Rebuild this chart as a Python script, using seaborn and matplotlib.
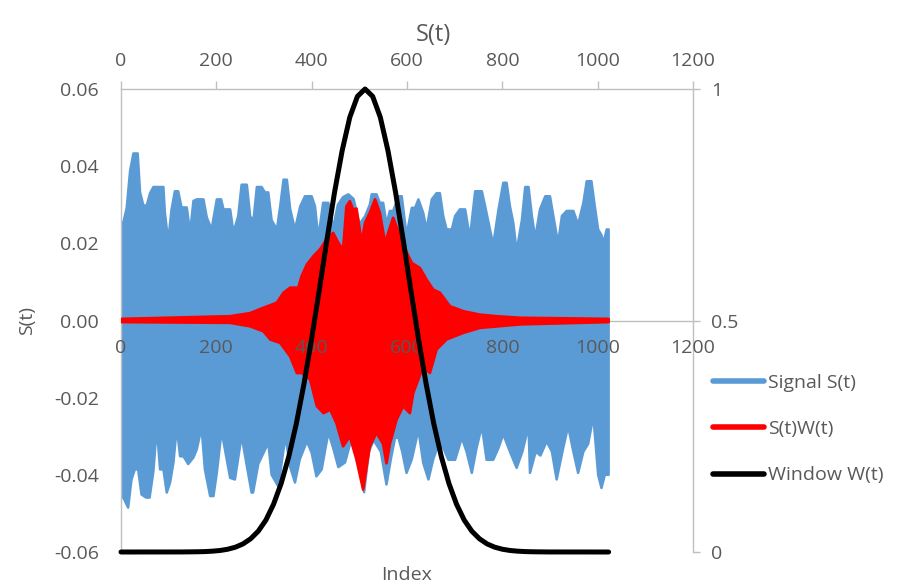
import numpy as np
import matplotlib
matplotlib.use("Agg")
import matplotlib.pyplot as plt
import seaborn as sns
from matplotlib.lines import Line2D
from matplotlib.ticker import FuncFormatter

sns.set_theme(style="white")
plt.rcParams['font.family'] = ['Open Sans', 'DejaVu Sans']

# ---------------- data ----------------
# Signal S(t): upper / lower envelope of the dense oscillation
sig_up_idx = [0, 5, 12, 19, 26, 35, 40, 47, 54, 61,
              68, 89, 92, 99, 106, 113, 120, 127, 138, 145,
              152, 159, 173, 180, 190, 201, 210, 215, 229, 236,
              246, 253, 264, 271, 278, 285, 295, 302, 309, 316,
              327, 334, 341, 348, 355, 365, 376, 386, 400, 407,
              414, 424, 435, 445, 455, 466, 477, 488, 500, 512,
              522, 526, 536, 543, 550, 557, 564, 571, 582, 589,
              599, 610, 617, 624, 634, 641, 652, 662, 669, 676,
              683, 694, 701, 711, 722, 732, 743, 757, 764, 774,
              781, 792, 802, 809, 816, 823, 830, 841, 848, 855,
              862, 869, 879, 890, 900, 907, 917, 925, 935, 949,
              959, 970, 977, 987, 994, 1001, 1008, 1012, 1019, 1023]
sig_up = [.0254, .0254, .0292, .0387, .0433, .0433, .0332, .0298, .0298, .0330,
          .0346, .0346, .0280, .0206, .0287, .0335, .0335, .0293, .0293, .0228,
          .0310, .0314, .0314, .0267, .0236, .0314, .0314, .0288, .0288, .0228,
          .0271, .0352, .0352, .0270, .0260, .0346, .0346, .0332, .0332, .0260,
          .0236, .0296, .0365, .0365, .0288, .0236, .0296, .0322, .0322, .0296,
          .0214, .0305, .0305, .0240, .0300, .0320, .0327, .0315, .0250, .0270,
          .0300, .0327, .0327, .0305, .0305, .0250, .0284, .0284, .0322, .0322,
          .0221, .0292, .0292, .0314, .0279, .0236, .0314, .0330, .0330, .0271,
          .0236, .0236, .0271, .0288, .0288, .0214, .0335, .0335, .0296, .0236,
          .0197, .0288, .0357, .0357, .0296, .0253, .0180, .0260, .0346, .0346,
          .0271, .0214, .0288, .0322, .0322, .0271, .0200, .0271, .0284, .0284,
          .0249, .0305, .0361, .0361, .0296, .0236, .0221, .0200, .0236, .0236]

sig_lo_idx = [0, 5, 15, 22, 29, 36, 43, 53, 60, 68,
              75, 82, 89, 96, 103, 110, 117, 124, 131, 141,
              152, 159, 169, 176, 187, 194, 201, 211, 218, 229,
              239, 253, 264, 274, 277, 288, 299, 309, 316, 330,
              345, 355, 365, 375, 390, 400, 410, 421, 435, 445,
              456, 470, 485, 498, 510, 520, 530, 545, 557, 566,
              575, 582, 590, 599, 610, 624, 634, 645, 655, 666,
              676, 687, 701, 715, 725, 736, 746, 757, 767, 781,
              792, 802, 816, 830, 842, 855, 858, 870, 880, 893,
              904, 914, 926, 938, 949, 959, 970, 980, 991, 1001,
              1008, 1015, 1023]
sig_lo = [-.0459, -.0459, -.0485, -.0412, -.0386, -.0386, -.0451, -.0459, -.0459, -.0390,
          -.0277, -.0386, -.0386, -.0446, -.0420, -.0368, -.0277, -.0352, -.0352, -.0372,
          -.0355, -.0334, -.0277, -.0386, -.0455, -.0455, -.0395, -.0286, -.0334, -.0408,
          -.0412, -.0299, -.0377, -.0446, -.0446, -.0372, -.0343, -.0317, -.0400, -.0430,
          -.0300, -.0380, -.0420, -.0360, -.0313, -.0343, -.0404, -.0386, -.0290, -.0330,
          -.0380, -.0368, -.0300, -.0370, -.0445, -.0340, -.0310, -.0340, -.0425, -.0360,
          -.0304, -.0304, -.0340, -.0395, -.0360, -.0283, -.0369, -.0412, -.0360, -.0320,
          -.0330, -.0361, -.0361, -.0304, -.0340, -.0395, -.0330, -.0274, -.0361, -.0361,
          -.0330, -.0295, -.0340, -.0382, -.0340, -.0274, -.0395, -.0340, -.0350, -.0313,
          -.0340, -.0412, -.0340, -.0274, -.0340, -.0395, -.0340, -.0320, -.0248, -.0400,
          -.0434, -.0400, -.0400]

# S(t)W(t): upper / lower envelope
sw_up_idx = [0, 229, 271, 299, 327, 341, 355, 372, 379, 390,
             404, 418, 431, 445, 456, 466, 473, 480, 487, 494,
             505, 512, 522, 533, 543, 554, 564, 571, 585, 598,
             610, 627, 641, 655, 669, 690, 718, 753, 788, 837, 1023]
sw_up = [.0004, .0011, .0019, .0033, .0046, .0072, .0085, .0085, .0115, .0145,
         .0167, .0185, .0210, .0227, .0201, .0184, .0296, .0309, .0287, .0290,
         .0201, .0253, .0279, .0314, .0279, .0201, .0240, .0266, .0220, .0180,
         .0149, .0136, .0106, .0080, .0072, .0037, .0024, .0015, .0011, .0007, .0004]
sw_lo_idx = [0, 229, 271, 299, 313, 334, 355, 369, 379, 397,
             411, 425, 439, 452, 466, 480, 494, 508, 515, 522,
             536, 550, 557, 564, 578, 592, 606, 613, 634, 648,
             662, 683, 718, 753, 837, 1023]
sw_lo = [-.0004, -.0006, -.0015, -.0028, -.0049, -.0058, -.0093, -.0136, -.0136, -.0153,
         -.0222, -.0240, -.0231, -.0266, -.0326, -.0300, -.0360, -.0438, -.0380, -.0326,
         -.0291, -.0320, -.0370, -.0320, -.0257, -.0222, -.0240, -.0188, -.0119, -.0136,
         -.0075, -.0049, -.0032, -.0019, -.0010, -.0004]

# Window W(t) (secondary axis)
win_idx = [0, 128, 160, 176, 192, 208, 224, 240, 256, 272, 288, 304, 320, 336, 352,
           368, 384, 400, 416, 432, 448, 464, 480, 496, 512, 528, 544, 560, 576, 592,
           608, 624, 640, 656, 672, 688, 704, 720, 736, 752, 768, 784, 800, 816, 832,
           848, 864, 896, 1023]
win = [0, 0.0001, 0.0005, 0.0009, 0.0018, 0.0033, 0.006, 0.0104, 0.0175, 0.0286,
       0.045, 0.069, 0.103, 0.148, 0.206, 0.278, 0.364, 0.461, 0.566, 0.674,
       0.777, 0.867, 0.939, 0.984, 1.0, 0.984, 0.939, 0.867, 0.777, 0.674,
       0.566, 0.461, 0.364, 0.278, 0.206, 0.148, 0.103, 0.069, 0.045, 0.0286,
       0.0175, 0.0104, 0.006, 0.0033, 0.0018, 0.0009, 0.0005, 0.0001, 0]

x_ticks = [0, 200, 400, 600, 800, 1000, 1200]
y_ticks = [-0.06, -0.04, -0.02, 0.0, 0.02, 0.04, 0.06]
y2_ticks = [0, 0.5, 1]
y2_labels = ["0", "0.5", "1"]
legend_labels = ["Signal S(t)", "S(t)W(t)", "Window W(t)"]

BLUE = "#5B9BD5"
RED = "#FF0000"
BLACK = "#000000"
GRAY_TXT = "#595959"
GRAY_LN = "#BFBFBF"
FS = 14

# ---------------- figure ----------------
fig = plt.figure(figsize=(9.07, 5.88), dpi=100)
L, R, B, T = 121 / 907, 693 / 907, 1 - 552 / 588, 1 - 89 / 588
ax = fig.add_axes([L, B, R - L, T - B])
ax2 = fig.add_axes([L, B, R - L, T - B], frameon=False)

# blue band
bx = np.r_[sig_up_idx, sig_lo_idx[::-1]]
by = np.r_[sig_up, sig_lo[::-1]]
ax.fill(bx, by, facecolor=BLUE, edgecolor=BLUE, lw=1.8, joinstyle="round", zorder=2)
# red band
rx = np.r_[sw_up_idx, sw_lo_idx[::-1]]
ry = np.r_[sw_up, sw_lo[::-1]]
ax.fill(rx, ry, facecolor=RED, edgecolor=RED, lw=2.0, joinstyle="round", zorder=3)

ax.set_xlim(0, 1200)
ax.set_ylim(-0.06, 0.06)
ax.set_xticks(x_ticks)
ax.set_yticks(y_ticks)
ax.yaxis.set_major_formatter(FuncFormatter(lambda v, p: "0.00" if abs(v) < 1e-9 else f"{v:.2f}"))
for s in ["left", "top", "right"]:
    ax.spines[s].set_color(GRAY_LN)
    ax.spines[s].set_linewidth(1)
ax.spines["bottom"].set_position(("data", 0))
ax.spines["bottom"].set_color(GRAY_LN)
ax.spines["bottom"].set_linewidth(1)
ax.spines["bottom"].set_zorder(1)
ax.xaxis.set_zorder(6)
ax.tick_params(axis="y", left=False, length=0, pad=16, labelsize=FS, labelcolor=GRAY_TXT)
ax.tick_params(axis="x", bottom=False, length=0, pad=13, labelsize=FS, labelcolor=GRAY_TXT)
ax.grid(False)
ax.set_xlabel("Index", fontsize=FS, color=GRAY_TXT)
ax.xaxis.set_label_coords(0.5, (552 - 575) / 463)
ax.xaxis.label.set_va("center")
ax.set_ylabel("S(t)", fontsize=FS, color=GRAY_TXT)
ax.yaxis.set_label_coords((27 - 121) / 572, 0.5)
ax.yaxis.label.set_va("center")

# window on secondary axes
sns.lineplot(x=win_idx, y=win, ax=ax2, color=BLACK, lw=3.6, clip_on=False, zorder=5,
             solid_joinstyle="round", solid_capstyle="round")
ax2.set_xlim(0, 1200)
ax2.set_ylim(0, 1)
ax2.set_xticks(x_ticks)
ax2.set_yticks(y2_ticks)
ax2.set_yticklabels(y2_labels)
ax2.xaxis.tick_top()
ax2.yaxis.tick_right()
ax2.tick_params(axis="x", top=True, bottom=False, labeltop=True, labelbottom=False,
                direction="out", length=6, width=1, color=GRAY_LN, pad=8,
                labelsize=FS, labelcolor=GRAY_TXT)
ax2.tick_params(axis="y", right=True, left=False, labelright=True, labelleft=False,
                direction="out", length=5, width=1, color=GRAY_LN, pad=8,
                labelsize=FS, labelcolor=GRAY_TXT)
ax2.set_xlabel("")
ax2.set_ylabel("")
ax2.grid(False)

fig.text(433 / 907, 1 - 35 / 588, "S(t)", ha="center", va="center",
         fontsize=17, color=GRAY_TXT)

handles = [Line2D([], [], color=BLUE, lw=4),
           Line2D([], [], color=RED, lw=4),
           Line2D([], [], color=BLACK, lw=4)]
leg = fig.legend(handles, legend_labels, loc="upper left",
                 bbox_to_anchor=(713 / 907, 1 - 374 / 588), bbox_transform=fig.transFigure,
                 frameon=False, fontsize=FS, handlelength=2.6, handletextpad=0.25,
                 labelspacing=1.45, borderpad=0, borderaxespad=0)
for t in leg.get_texts():
    t.set_color(GRAY_TXT)

fig.savefig("out.png", dpi=100)
